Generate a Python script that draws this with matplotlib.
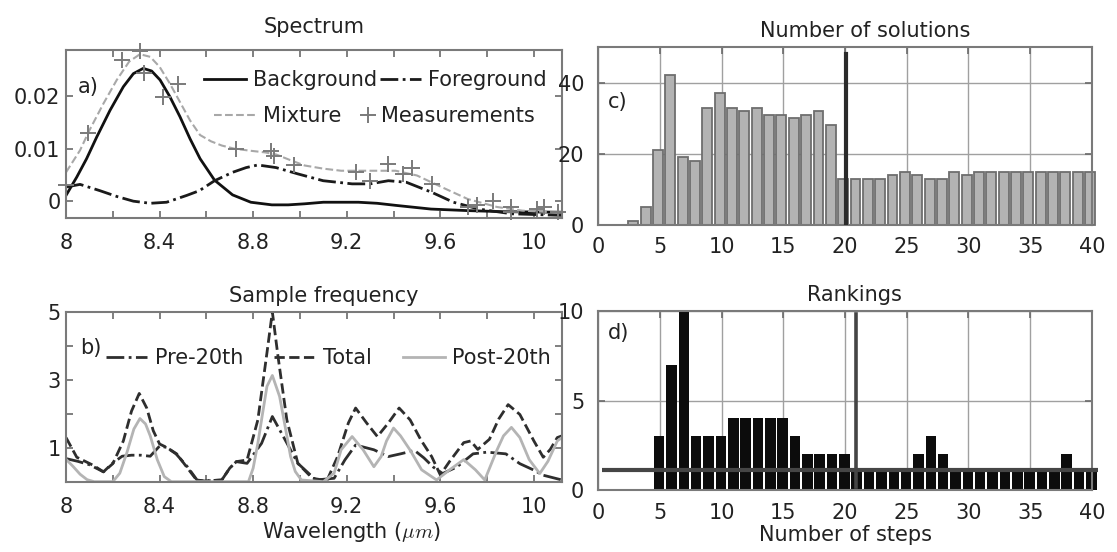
import numpy as np
import matplotlib.pyplot as plt

plt.rcParams['font.family'] = ['DejaVu Sans']
plt.rcParams['font.size'] = 15
plt.rcParams['mathtext.fontset'] = 'cm'

# a) spectrum: wavelength (um) / value pairs per curve
bg_wl = [8.00, 8.046, 8.088, 8.131, 8.188, 8.245, 8.288, 8.33, 8.366, 8.402, 8.444, 8.487,
         8.53, 8.573, 8.635, 8.712, 8.79, 8.88, 8.95, 9.02, 9.10, 9.25, 9.33, 9.41, 9.56,
         9.72, 9.87, 10.12]
bg_val = [0.0011, 0.0046, 0.0081, 0.0122, 0.0173, 0.0218, 0.0243, 0.0253, 0.0248, 0.0231,
          0.0199, 0.0161, 0.0119, 0.0081, 0.0040, 0.0012, -0.0002, -0.0007, -0.0007,
          -0.0005, -0.0002, -0.0002, -0.0004, -0.0008, -0.0015, -0.0018, -0.0020, -0.0021]

fg_wl = [8.00, 8.06, 8.145, 8.217, 8.288, 8.36, 8.43, 8.516, 8.57, 8.635, 8.712, 8.77, 8.82,
         8.898, 8.991, 9.099, 9.223, 9.30, 9.378, 9.455, 9.563, 9.656, 9.765, 9.904, 10.12]
fg_val = [0.0027, 0.0032, 0.0020, 0.0009, 0.0000, -0.0004, -0.0002, 0.0011, 0.0020, 0.0039,
          0.0055, 0.0064, 0.0069, 0.0064, 0.0052, 0.0039, 0.0033, 0.0033, 0.0039, 0.0036,
          0.0017, -0.0002, -0.0015, -0.0024, -0.0027]

mx_wl = [8.00, 8.06, 8.10, 8.16, 8.217, 8.27, 8.316, 8.36, 8.40, 8.444, 8.487, 8.53, 8.573,
         8.62, 8.666, 8.72, 8.79, 8.85, 8.898, 8.96, 9.02, 9.10, 9.176, 9.30, 9.409, 9.50,
         9.61, 9.718, 9.842, 9.95, 10.12]
mx_val = [0.0055, 0.0097, 0.0135, 0.0186, 0.0231, 0.0266, 0.0280, 0.0275, 0.0256, 0.0224,
          0.0189, 0.0154, 0.0126, 0.0114, 0.0106, 0.0100, 0.0096, 0.0093, 0.0089, 0.0078,
          0.0068, 0.0062, 0.0058, 0.0058, 0.0058, 0.0049, 0.0026, 0.0004, -0.0011, -0.0018,
          -0.0022]

ms_wl = [8.00, 8.095, 8.238, 8.316, 8.333, 8.413, 8.477, 8.728, 8.875, 8.89, 8.975, 9.238,
         9.30, 9.378, 9.44, 9.478, 9.563, 9.718, 9.757, 9.827, 9.904, 9.904, 10.012, 10.043,
         10.105]
ms_val = [0.0030, 0.0129, 0.0269, 0.0287, 0.0245, 0.0199, 0.0224, 0.0099, 0.0096, 0.0086,
          0.0068, 0.0055, 0.0039, 0.0071, 0.0052, 0.0064, 0.0033, -0.0011, -0.0008, 0.0001,
          -0.0011, -0.0021, -0.0015, -0.0011, -0.0021]

# b) sample frequency
tot_wl = [8.00, 8.046, 8.117, 8.16, 8.20, 8.245, 8.28, 8.313, 8.345, 8.373, 8.40, 8.43,
          8.473, 8.516, 8.558, 8.588, 8.666, 8.70, 8.728, 8.774, 8.82, 8.859, 8.882, 8.906,
          8.944, 8.991, 9.053, 9.115, 9.161, 9.207, 9.238, 9.285, 9.331, 9.378, 9.424, 9.471,
          9.517, 9.563, 9.60, 9.64, 9.70, 9.73, 9.76, 9.81, 9.85, 9.89, 9.94, 10.00, 10.04,
          10.07, 10.10, 10.12]
tot_val = [1.30, 0.72, 0.48, 0.29, 0.53, 1.20, 2.08, 2.60, 2.17, 1.50, 1.11, 1.01, 0.82,
           0.43, 0.05, 0.02, 0.05, 0.40, 0.59, 0.64, 1.82, 3.80, 5.00, 3.70, 1.82, 0.54, 0.10,
           0.03, 0.74, 1.73, 2.17, 1.73, 1.33, 1.73, 2.17, 1.82, 1.23, 0.74, 0.20, 0.60, 1.15,
           1.20, 0.95, 1.25, 1.85, 2.27, 1.98, 1.20, 0.72, 0.95, 1.30, 1.35]

pre_wl = [8.00, 8.05, 8.10, 8.16, 8.20, 8.24, 8.28, 8.32, 8.36, 8.40, 8.43, 8.47, 8.52, 8.56,
          8.59, 8.666, 8.70, 8.728, 8.774, 8.836, 8.882, 8.929, 8.991, 9.068, 9.146, 9.192,
          9.238, 9.316, 9.378, 9.43, 9.49, 9.53, 9.57, 9.61, 9.67, 9.74, 9.80, 9.88, 9.94,
          10.00, 10.04, 10.12]
pre_val = [0.68, 0.60, 0.50, 0.29, 0.55, 0.75, 0.78, 0.78, 0.75, 1.05, 1.01, 0.82, 0.43,
           0.05, 0.02, 0.05, 0.40, 0.59, 0.54, 1.13, 1.92, 1.33, 0.54, 0.05, 0.10, 0.64,
           1.08, 0.94, 0.74, 0.82, 0.92, 0.70, 0.43, 0.24, 0.43, 0.82, 0.87, 0.82, 0.53,
           0.34, 0.19, 0.05]

post_wl = [8.00, 8.03, 8.06, 8.09, 8.12, 8.20, 8.23, 8.26, 8.29, 8.316, 8.34, 8.36, 8.39,
           8.42, 8.45, 8.78, 8.80, 8.82, 8.84, 8.859, 8.882, 8.913, 8.94, 8.96, 8.98, 9.006,
           9.10, 9.146, 9.176, 9.223, 9.27, 9.316, 9.347, 9.37, 9.40, 9.43, 9.47, 9.52,
           9.584, 9.64, 9.70, 9.75, 9.79, 9.84, 9.87, 9.904, 9.94, 9.98, 10.025, 10.06,
           10.10, 10.12]
post_val = [0.66, 0.45, 0.22, 0.06, 0.00, 0.00, 0.25, 0.85, 1.55, 1.86, 1.70, 1.35, 0.65,
            0.15, 0.00, 0.00, 0.40, 1.13, 2.00, 2.81, 3.13, 2.51, 1.50, 0.74, 0.30, 0.05,
            0.00, 0.25, 0.94, 1.33, 0.94, 0.44, 0.74, 1.20, 1.58, 1.35, 0.94, 0.35, 0.05,
            0.35, 0.65, 0.35, 0.05, 0.90, 1.35, 1.60, 1.30, 0.65, 0.24, 0.60, 1.20, 1.30]

# c) number of solutions per step
sol_steps = np.arange(3, 41)
solutions = [1, 5, 21, 42, 19, 18, 33, 37, 33, 32, 33, 31, 31, 30, 31, 32, 28,
             13, 13, 13, 13, 14, 15, 14, 13, 13, 15, 14,
             15, 15, 15, 15, 15, 15, 15, 15, 15, 15]
sol_cut = 20.1
sol_cut_height = 48

# d) rankings per step
rank_steps = np.arange(5, 41)
rankings = [3, 7, 10, 3, 3, 3, 4, 4, 4, 4, 4, 3, 2, 2, 2, 2,
            1, 1, 1, 1, 1, 2, 3, 2, 1, 1, 1, 1, 1, 1, 1, 1, 1, 2, 1, 1]
rank_cut = 20.9
rank_level = 1.1


def frame(ax, xpad, ypad):
    for sp in ax.spines.values():
        sp.set_color('#7a7a7a')
        sp.set_linewidth(1.5)
    ax.tick_params(direction='in', top=True, right=True, length=5, width=1.2,
                   color='#6a6a6a', labelcolor='#222222', labelsize=15)
    ax.tick_params(axis='x', pad=xpad)
    ax.tick_params(axis='y', pad=ypad)


fig = plt.figure(figsize=(11.17, 5.52), dpi=100)
ax_a = fig.add_axes([0.0591, 0.6051, 0.4440, 0.3043])
ax_b = fig.add_axes([0.0591, 0.1274, 0.4440, 0.3074])
ax_c = fig.add_axes([0.5354, 0.5924, 0.4422, 0.3225])
ax_d = fig.add_axes([0.5354, 0.1123, 0.4422, 0.3243])

wl_ticks = np.round(np.arange(8, 10.01, 0.2), 1)
wl_labels = ['8', '', '8.4', '', '8.8', '', '9.2', '', '9.6', '', '10']

# ---- a) Spectrum
h_bg, = ax_a.plot(bg_wl, bg_val, color='#111111', lw=2)
h_fg, = ax_a.plot(fg_wl, fg_val, color='#1a1a1a', lw=2, ls='-.')
h_mx, = ax_a.plot(mx_wl, mx_val, color='#a8a8a8', lw=1.5, ls='--')
h_ms, = ax_a.plot(ms_wl, ms_val, ls='none', marker='+', ms=11, mew=1.4,
                  color='#7a7a7a', clip_on=False)
ax_a.set_xlim(8, 10.12)
ax_a.set_ylim(-0.0032, 0.0288)
ax_a.set_xticks(wl_ticks)
ax_a.set_xticklabels(wl_labels)
ax_a.set_yticks([0, 0.01, 0.02])
ax_a.set_yticklabels(['0', '0.01', '0.02'])
frame(ax_a, 11, 4)
ax_a.set_title('Spectrum', fontsize=15, pad=12, color='#222222')
ax_a.text(0.024, 0.78, 'a)', transform=ax_a.transAxes, va='center', color='#222222')
leg_kw = dict(frameon=False, borderpad=0, borderaxespad=0, fontsize=15,
              handletextpad=0.35, loc='center right', labelcolor='#222222')
leg1 = ax_a.legend([h_bg, h_fg], ['Background', 'Foreground'], ncol=2,
                   bbox_to_anchor=(0.97, 0.82), handlelength=2.0, columnspacing=0.1, **leg_kw)
ax_a.add_artist(leg1)
leg2 = ax_a.legend([h_mx], ['Mixture'], bbox_to_anchor=(0.556, 0.607),
                   handlelength=2.0, **leg_kw)
ax_a.add_artist(leg2)
ax_a.legend([h_ms], ['Measurements'], bbox_to_anchor=(0.946, 0.607),
            handlelength=0.6, numpoints=1, **leg_kw)

# ---- b) Sample frequency
h_pre, = ax_b.plot(pre_wl, pre_val, color='#2e2e2e', lw=2, ls='-.')
h_tot, = ax_b.plot(tot_wl, tot_val, color='#2e2e2e', lw=2, ls='--')
h_post, = ax_b.plot(post_wl, post_val, color='#b4b4b4', lw=2)
ax_b.set_xlim(8, 10.12)
ax_b.set_ylim(0, 4.95)
ax_b.set_xticks(wl_ticks)
ax_b.set_xticklabels(wl_labels)
ax_b.set_yticks([1, 2, 3, 4, 5])
ax_b.set_yticklabels(['1', '', '3', '', '5'])
frame(ax_b, 11, 4)
ax_b.set_title('Sample frequency', fontsize=15, pad=7, x=0.52, color='#222222')
ax_b.set_xlabel(r'Wavelength ($\mu m$)', fontsize=15, labelpad=2, x=0.575, color='#222222')
ax_b.text(0.028, 0.79, 'b)', transform=ax_b.transAxes, va='center', color='#222222')
ax_b.legend([h_pre, h_tot, h_post], ['Pre-20th', 'Total', 'Post-20th'], ncol=3,
            bbox_to_anchor=(0.978, 0.73), handlelength=2.0, columnspacing=1.5, **leg_kw)

# ---- c) Number of solutions
ax_c.bar(sol_steps - 0.15, solutions, width=0.8, color='#b3b3b3', edgecolor='#6e6e6e',
         linewidth=1.3, clip_on=False, zorder=2)
ax_c.plot([sol_cut, sol_cut], [0, sol_cut_height], color='#2b2b2b', lw=3, zorder=3)
ax_c.set_xlim(0, 40)
ax_c.set_ylim(0, 50)
ax_c.set_xticks(np.arange(0, 41, 5))
ax_c.set_yticks([0, 20, 40])
ax_c.grid(True, color='#a0a0a0', lw=1)
ax_c.set_axisbelow(True)
frame(ax_c, 9, 10)
ax_c.set_title('Number of solutions', fontsize=15, pad=7, x=0.54, color='#222222')
ax_c.text(0.02, 0.69, 'c)', transform=ax_c.transAxes, va='center', color='#222222')

# ---- d) Rankings
ax_d.bar(rank_steps - 0.05, rankings, width=0.85, color='#0c0c0c', linewidth=0,
         clip_on=False, zorder=2)
ax_d.plot([0.3, 40.5], [rank_level, rank_level], color='#454545', lw=3, zorder=3,
          clip_on=False, solid_capstyle='butt')
ax_d.plot([rank_cut, rank_cut], [0.15, 9.85], color='#454545', lw=2.6, zorder=3)
ax_d.set_xlim(0, 40)
ax_d.set_ylim(0, 10)
ax_d.set_xticks(np.arange(0, 41, 5))
ax_d.set_yticks([0, 5, 10])
ax_d.grid(True, color='#a0a0a0', lw=1)
ax_d.set_axisbelow(True)
frame(ax_d, 9, 10)
ax_d.set_title('Rankings', fontsize=15, pad=7, x=0.52, color='#222222')
ax_d.set_xlabel('Number of steps', fontsize=15, labelpad=2, color='#222222')
ax_d.text(0.02, 0.877, 'd)', transform=ax_d.transAxes, va='center', color='#222222')

fig.savefig('out.png', dpi=100)
